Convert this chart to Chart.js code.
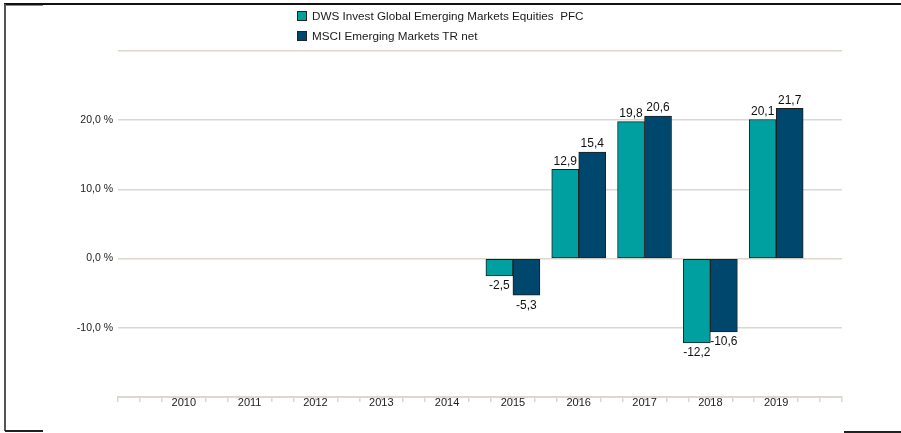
<!DOCTYPE html>
<html>
<head>
<meta charset="utf-8">
<script src="https://cdn.jsdelivr.net/npm/chart.js@4.4.1/dist/chart.umd.min.js"></script>
<style>
  body { margin: 0; background: #fff; }
  #wrap { position: relative; width: 901px; height: 433px; overflow: hidden; }
  .ln { position: absolute; }
  #legend { position: absolute; left: 297px; top: 8px; font: 11.7px "Liberation Sans", Arial, sans-serif; color: #1a1a1a; }
  #legend div { height: 20px; line-height: 16px; white-space: pre; }
  #legend span.box { display: inline-block; width: 8px; height: 8px; border: 1px solid #222; margin-right: 5px; vertical-align: -1px; }
</style>
</head>
<body>
<div id="wrap">
  <canvas id="perfChart" width="901" height="433"></canvas>
  <div id="legend"></div>
  <div class="ln" style="left:4px;top:3px;width:897px;height:2px;background:#111"></div>
  <div class="ln" style="left:6px;top:5px;width:37px;height:1px;background:#888"></div>
  <div class="ln" style="left:4px;top:4px;width:2px;height:427px;background:#555"></div>
  <div class="ln" style="left:5px;top:430px;width:38px;height:2px;background:#222"></div>
  <div class="ln" style="left:844px;top:431px;width:57px;height:2px;background:#222"></div>
</div>
<script>
// Jahre und Wertentwicklung in %
var years = [2010, 2011, 2012, 2013, 2014, 2015, 2016, 2017, 2018, 2019];
var fundValues = [null, null, null, null, null, -2.5, 12.9, 19.8, -12.2, 20.1];
var indexValues = [null, null, null, null, null, -5.3, 15.4, 20.6, -10.6, 21.7];
var seriesNames = ['DWS Invest Global Emerging Markets Equities  PFC', 'MSCI Emerging Markets TR net'];
var seriesColors = ['#00a0a0', '#00476d'];
var yTicks = [-10, 0, 10, 20];

var fontFamily = '"Liberation Sans", Arial, sans-serif';
var gridColor = '#dcd8cf';

function pct(v) {
    return v.toFixed(1).replace('.', ',');
}

function toPoints(vals) {
    return years.map(function (y, i) { return { x: y, y: vals[i] }; });
}

// Werte ueber / unter den Balken
var valueLabels = {
    id: 'valueLabels',
    afterDatasetsDraw: function (chart) {
        var ctx = chart.ctx;
        ctx.save();
        ctx.font = '12px ' + fontFamily;
        ctx.fillStyle = '#111';
        ctx.textAlign = 'center';
        chart.data.datasets.forEach(function (ds, di) {
            var meta = chart.getDatasetMeta(di);
            meta.data.forEach(function (bar, i) {
                var v = ds.data[i].y;
                if (v === null) return;
                if (v >= 0) {
                    ctx.textBaseline = 'bottom';
                    ctx.fillText(pct(v), bar.x, bar.y - 2);
                } else {
                    ctx.textBaseline = 'top';
                    ctx.fillText(pct(v), bar.x, bar.y + 4);
                }
            });
        });
        ctx.restore();
    }
};

var ctx = document.getElementById('perfChart').getContext('2d');
var chart = new Chart(ctx, {
    type: 'bar',
    data: {
        datasets: [{
            label: seriesNames[0],
            data: toPoints(fundValues),
            backgroundColor: seriesColors[0],
            borderColor: '#1f1f1f',
            borderWidth: 1,
            borderSkipped: false
        }, {
            label: seriesNames[1],
            data: toPoints(indexValues),
            backgroundColor: seriesColors[1],
            borderColor: '#1f1f1f',
            borderWidth: 1,
            borderSkipped: false
        }]
    },
    options: {
        responsive: false,
        animation: false,
        barThickness: 27,
        layout: { padding: { left: 0, right: 59, top: 51, bottom: 0 } },
        plugins: {
            legend: { display: false },
            tooltip: { enabled: false }
        },
        scales: {
            x: {
                type: 'linear',
                offset: false,
                min: years[0] - 1,
                max: years[years.length - 1] + 1,
                afterFit: function (scale) { scale.height = 36; },
                afterBuildTicks: function (scale) {
                    var t = [];
                    for (var k = 0; k <= (scale.max - scale.min) * 3; k++) {
                        t.push({ value: scale.min + k / 3 });
                    }
                    scale.ticks = t;
                },
                ticks: {
                    autoSkip: false,
                    maxRotation: 0,
                    padding: -6,
                    color: '#222',
                    font: { family: fontFamily, size: 11 },
                    callback: function (v) {
                        var r = Math.round(v);
                        if (Math.abs(v - r) < 1e-6 && years.indexOf(r) >= 0) return String(r);
                        return '';
                    }
                },
                grid: { offset: false, drawOnChartArea: false, drawTicks: true, tickLength: 5, color: gridColor, lineWidth: 1.5 },
                border: { color: gridColor, width: 2 }
            },
            y: {
                min: -20,
                max: 30,
                afterFit: function (scale) { scale.width = 118; },
                ticks: {
                    stepSize: 10,
                    padding: 5,
                    color: '#222',
                    font: { family: fontFamily, size: 10.5 },
                    callback: function (v) {
                        return yTicks.indexOf(v) >= 0 ? pct(v) + ' %' : '';
                    }
                },
                grid: { color: gridColor, lineWidth: 1.5, drawTicks: false },
                border: { display: false }
            }
        }
    },
    plugins: [valueLabels]
});

// Legende untereinander, linksbuendig
var legendEl = document.getElementById('legend');
chart.data.datasets.forEach(function (ds) {
    var row = document.createElement('div');
    var box = document.createElement('span');
    box.className = 'box';
    box.style.background = ds.backgroundColor;
    row.appendChild(box);
    row.appendChild(document.createTextNode(ds.label));
    legendEl.appendChild(row);
});
</script>
</body>
</html>
